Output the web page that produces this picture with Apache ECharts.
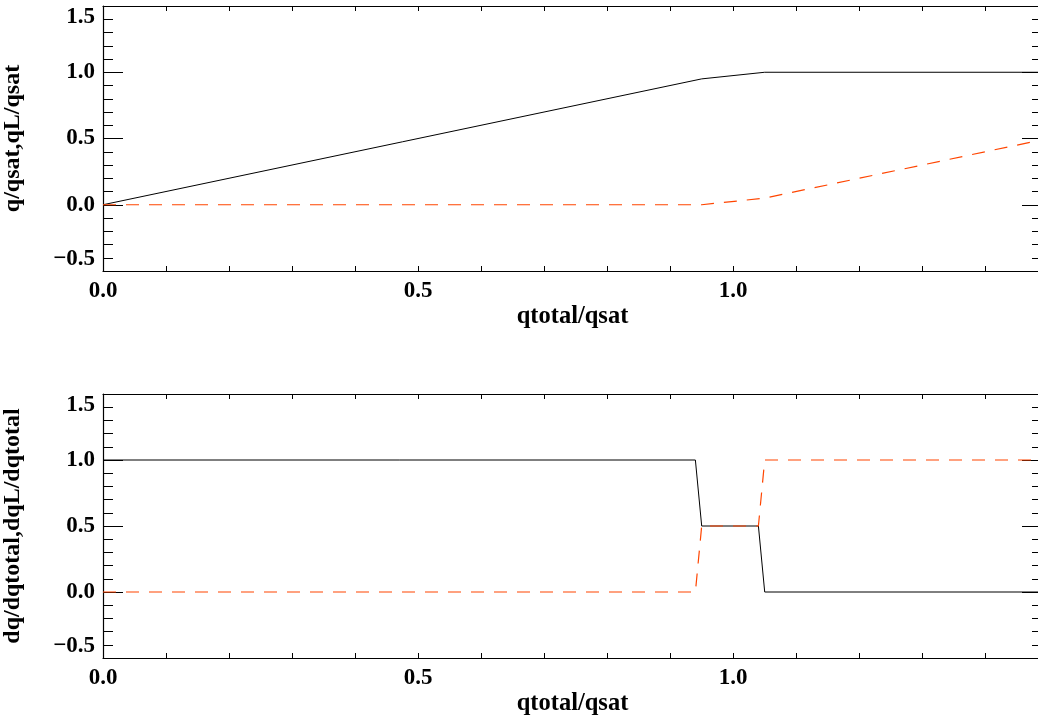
<!DOCTYPE html>
<html>
<head>
<meta charset="utf-8">
<script src="https://cdn.jsdelivr.net/npm/echarts@6/dist/echarts.min.js"></script>
<style>
html,body{margin:0;padding:0;background:#fff;overflow:hidden;}
#c{width:1050px;height:722px;}
</style>
</head>
<body>
<div id="c"></div>
<script>
// Top panel data
const qtotal = [0, 0.95, 1.05, 1.49];
const qRatio = [0, 0.95, 1.0, 1.0];
const qLRatio = [0, 0, 0.05, 0.49];
// Bottom panel data
const qtotalD = [0, 0.94, 0.95, 1.04, 1.05, 1.49];
const dqRatio = [1, 1, 0.5, 0.5, 0, 0];
const dqLRatio = [0, 0, 0.5, 0.5, 1, 1];
// Axis labels
const xTitle = 'qtotal/qsat';
const yTitleTop = 'q/qsat,qL/qsat';
const yTitleBottom = 'dq/dqtotal,dqL/dqtotal';

const FONT = '"Liberation Serif","DejaVu Serif",serif';
const RED = '#ff4500';

function pairs(xs, ys) { return xs.map((x, i) => [x, ys[i]]); }

function xAxes(gridIndex) {
  const fmt = v => {
    const r = v / 0.5;
    return Math.abs(r - Math.round(r)) < 1e-6 ? v.toFixed(1) : '';
  };
  const common = {
    type: 'value', gridIndex, min: 0, max: 1.49, interval: 0.1,
    splitLine: { show: false },
    axisLine: { show: true, onZero: false, lineStyle: { color: '#000', width: 1.2 } },
    axisTick: { show: true, inside: true, length: 5, lineStyle: { color: '#000', width: 1 } }
  };
  return [
    Object.assign({}, common, {
      position: 'bottom',
      axisLabel: { show: true, formatter: fmt, margin: 9, color: '#000', fontFamily: FONT, fontWeight: 'bold', fontSize: 23, showMaxLabel: false },
      name: xTitle, nameLocation: 'middle', nameGap: 33,
      nameTextStyle: { color: '#000', fontFamily: FONT, fontWeight: 'bold', fontSize: 24.5 }
    }),
    Object.assign({}, common, { position: 'top', axisLabel: { show: false } })
  ];
}

function yAxes(gridIndex, title) {
  const common = {
    type: 'value', gridIndex, min: -0.5, max: 1.5, interval: 0.5,
    splitLine: { show: false },
    axisLine: { show: true, onZero: false, lineStyle: { color: '#000', width: 1.2 } },
    axisTick: { show: true, inside: true, length: 20, lineStyle: { color: '#000', width: 1 } },
    minorTick: { show: true, splitNumber: 5, length: 10, lineStyle: { color: '#000', width: 1 } }
  };
  return [
    Object.assign({}, common, {
      position: 'left',
      axisLabel: {
        show: true, margin: 8, color: '#000', fontFamily: FONT, fontWeight: 'bold', fontSize: 23,
        formatter: v => v.toFixed(1).replace('-', '\u2212'),
        verticalAlignMaxLabel: 'top', verticalAlignMinLabel: 'bottom'
      },
      name: title, nameLocation: 'middle', nameGap: 78, nameRotate: 90,
      nameTextStyle: { color: '#000', fontFamily: FONT, fontWeight: 'bold', fontSize: 24 }
    }),
    Object.assign({}, common, { position: 'right', axisLabel: { show: false } })
  ];
}

const chart = echarts.init(document.getElementById('c'), null, { renderer: 'canvas' });
chart.setOption({
  animation: false,
  backgroundColor: '#fff',
  grid: [
    { left: 103, top: 6, width: 939, height: 265, containLabel: false, outerBoundsMode: 'none' },
    { left: 103, top: 394, width: 939, height: 264, containLabel: false, outerBoundsMode: 'none' }
  ],
  xAxis: [...xAxes(0), ...xAxes(1)],
  yAxis: [...yAxes(0, yTitleTop), ...yAxes(1, yTitleBottom)],
  series: [
    { type: 'line', xAxisIndex: 0, yAxisIndex: 0, data: pairs(qtotal, qRatio), showSymbol: false,
      lineStyle: { color: '#000', width: 1 } },
    { type: 'line', xAxisIndex: 0, yAxisIndex: 0, data: pairs(qtotal, qLRatio), showSymbol: false,
      lineStyle: { color: RED, width: 1.2, type: [13, 10] } },
    { type: 'line', xAxisIndex: 2, yAxisIndex: 2, data: pairs(qtotalD, dqRatio), showSymbol: false,
      lineStyle: { color: '#000', width: 1 } },
    { type: 'line', xAxisIndex: 2, yAxisIndex: 2, data: pairs(qtotalD, dqLRatio), showSymbol: false,
      lineStyle: { color: RED, width: 1.2, type: [13, 10] } }
  ]
});
</script>
</body>
</html>
